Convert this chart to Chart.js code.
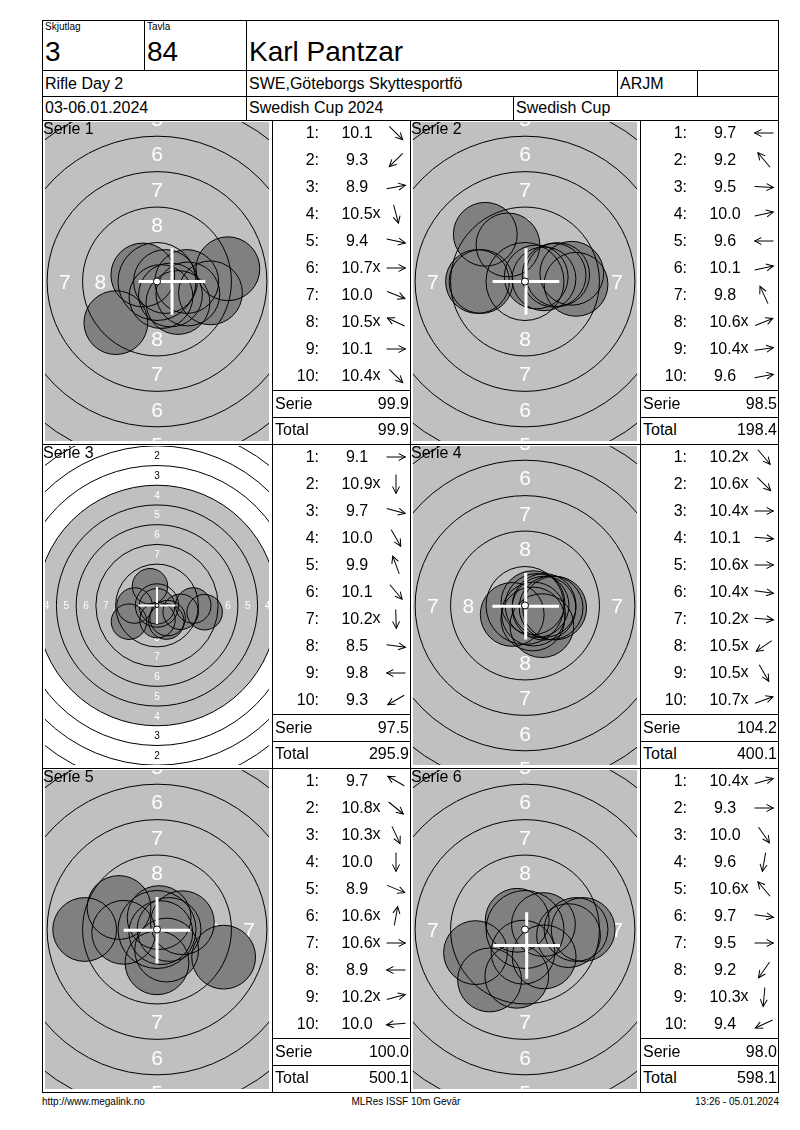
<!DOCTYPE html>
<html>
<head>
<meta charset="utf-8">
<script src="https://cdn.jsdelivr.net/npm/chart.js@4.4.1/dist/chart.umd.min.js"></script>
<style>
  body { margin: 0; background: #fff; font-family: "Liberation Sans", Arial, sans-serif; color: #000; }
  #page { position: relative; width: 800px; height: 1130px; overflow: hidden; }
  .ln { position: absolute; background: #000; }
  .t { position: absolute; white-space: nowrap; line-height: 1; }
  canvas { position: absolute; }
</style>
</head>
<body>
<div id="page"></div>
<script>
// header
const squad = '3';
const lane = '84';
const shooter = 'Karl Pantzar';
const eventName = 'Rifle Day 2';
const club = 'SWE,Göteborgs Skyttesportfö';
const classCode = 'ARJM';
const dates = '03-06.01.2024';
const competition = 'Swedish Cup 2024';
const cupName = 'Swedish Cup';
const footer = ['http://www.megalink.no', 'MLRes ISSF 10m Gevär', '13:26 - 05.01.2024'];

// series
const serieNames = ['Serie 1', 'Serie 2', 'Serie 3', 'Serie 4', 'Serie 5', 'Serie 6'];
const shotScores = [
  [10.1, 9.3, 8.9, 10.5, 9.4, 10.7, 10.0, 10.5, 10.1, 10.4],
  [9.7, 9.2, 9.5, 10.0, 9.6, 10.1, 9.8, 10.6, 10.4, 9.6],
  [9.1, 10.9, 9.7, 10.0, 9.9, 10.1, 10.2, 8.5, 9.8, 9.3],
  [10.2, 10.6, 10.4, 10.1, 10.6, 10.4, 10.2, 10.5, 10.5, 10.7],
  [9.7, 10.8, 10.3, 10.0, 8.9, 10.6, 10.6, 8.9, 10.2, 10.0],
  [10.4, 9.3, 10.0, 9.6, 10.6, 9.7, 9.5, 9.2, 10.3, 9.4]
];
const innerTens = [
  [0, 0, 0, 1, 0, 1, 0, 1, 0, 1],
  [0, 0, 0, 0, 0, 0, 0, 1, 1, 0],
  [0, 1, 0, 0, 0, 0, 1, 0, 0, 0],
  [1, 1, 1, 0, 1, 1, 1, 1, 1, 1],
  [0, 1, 1, 0, 0, 1, 1, 0, 1, 0],
  [1, 0, 0, 0, 1, 0, 0, 0, 1, 0]
];
// shot centres in mm from target centre (x right, y up)
const shotX = [
  [1.48, -2.9, 5.0, 0.28, 3.77, 0.6, 2.18, -1.0, 2.1, 0.95],
  [-3.1, -2.8, 3.6, 2.3, -3.35, 2.05, -1.2, 0.79, 1.34, 3.3],
  [4.6, 0.0, 3.0, 1.18, -0.89, 1.35, 0.06, 6.04, -2.85, -3.55],
  [1.19, 0.6, 1.35, 2.09, 0.85, 1.34, 1.84, -0.9, 0.55, 0.56],
  [-2.68, 0.27, 0.68, 0.0, 4.7, 0.15, 0.85, -5.1, 1.79, -2.35],
  [1.3, 4.1, 1.35, -0.58, -0.55, 3.07, 3.6, -2.5, -0.14, -3.49]
];
const shotY = [
  [-1.48, -2.9, 0.9, -1.06, -0.8, 0.0, -0.88, 0.46, 0.0, -0.95],
  [0.0, 3.33, -0.2, 0.49, 0.0, 0.44, 2.58, 0.32, 0.19, 0.58],
  [0.0, -0.1, -0.8, -2.04, 2.44, -1.6, -1.85, -0.85, 0.0, -2.05],
  [-1.42, -0.6, 0.0, -0.18, 0.0, -0.19, -0.16, -0.63, -0.95, 0.2],
  [1.55, -0.22, -1.45, -2.35, -1.95, 0.84, 0.0, 0.0, 0.48, -0.2],
  [0.35, 0.0, -1.93, -3.3, 0.65, -0.43, 0.0, -3.56, -1.6, -1.63]
];
const crossX = [1.06, 0.07, 0.0, 0.05, 0.0, 0.12];
const crossY = [0.0, 0.0, 0.0, -0.05, -0.05, -1.13];
const serieTotals = [99.9, 98.5, 97.5, 104.2, 100.0, 98.0];
const runningTotals = [99.9, 198.4, 295.9, 400.1, 500.1, 598.1];
// half width of the visible target, mm
const viewHalf = [7.9, 7.9, 14.2, 7.9, 7.9, 7.9];
const ringLabels = [1, 2, 3, 4, 5, 6, 7, 8];

const RING_STEP = 2.5;
const BLACK_R = 15.25;
const PELLET_R = 2.25;
const CROSS_ARM = 2.35;

const page = document.getElementById('page');

function line(x, y, w, h) {
  const d = document.createElement('div');
  d.className = 'ln';
  d.style.cssText = `left:${x}px;top:${y}px;width:${w}px;height:${h}px`;
  page.appendChild(d);
}

function text(str, x, yc, size, align) {
  const d = document.createElement('div');
  d.className = 't';
  d.textContent = str;
  d.style.fontSize = size + 'px';
  d.style.top = (yc - 0.4885 * size) + 'px';
  if (align === 'right') {
    d.style.left = (x - 1000) + 'px'; d.style.width = '1000px'; d.style.textAlign = 'right';
  } else if (align === 'center') {
    d.style.left = (x - 500) + 'px'; d.style.width = '1000px'; d.style.textAlign = 'center';
  } else {
    d.style.left = x + 'px';
  }
  page.appendChild(d);
  return d;
}

// frame
const L = 42, R = 778;
line(L, 20, R - L + 1, 1);
line(L, 20, 1, 1073);
line(R, 20, 1, 1073);
line(L, 70, R - L, 1);
line(L, 96, R - L, 1);
line(L, 120, R - L, 1);
line(144, 20, 1, 50);
line(246, 20, 1, 100);
line(617, 70, 1, 26);
line(697, 70, 1, 26);
line(513, 96, 1, 24);

text('Skjutlag', 45, 27, 10, 'left');
text('Tavla', 147, 27, 10, 'left');
text(squad, 45, 52, 28, 'left');
text(lane, 147, 52, 28, 'left');
text(shooter, 249, 52, 28, 'left');
text(eventName, 45, 84, 16, 'left');
text(club, 249, 84, 16, 'left');
text(classCode, 620, 84, 16, 'left');
text(dates, 45, 108, 16, 'left');
text(competition, 249, 108, 16, 'left');
text(cupName, 516, 108, 16, 'left');

text(footer[0], 42, 1102, 10, 'left');
text(footer[1], 406, 1102, 10, 'center');
text(footer[2], R + 1, 1102, 10, 'right');

const rowTops = [120, 444, 768];
const colTarget = [42, 410];
const colList = [272, 640];
const colRight = [410, R];

rowTops.forEach(t => line(L, t + 324, R - L, 1));
[272, 410, 640].forEach(x => line(x, 120, 1, 972));

function geom(chart) {
  const { x, y } = chart.scales;
  const cx = x.getPixelForValue(0), cy = y.getPixelForValue(0);
  const k = Math.abs(x.getPixelForValue(1) - cx);
  return { x, y, cx, cy, k };
}

const targetPlugin = {
  id: 'issfTarget',
  beforeDatasetsDraw(chart) {
    const { ctx, chartArea: a } = chart;
    const g = geom(chart);
    ctx.save();
    ctx.beginPath();
    ctx.rect(a.left, a.top, a.right - a.left, a.bottom - a.top);
    ctx.clip();
    ctx.fillStyle = '#ffffff';
    ctx.fillRect(a.left, a.top, a.right - a.left, a.bottom - a.top);
    ctx.fillStyle = '#c0c0c0';
    ctx.beginPath();
    ctx.arc(g.cx, g.cy, BLACK_R * g.k, 0, Math.PI * 2);
    ctx.fill();
    const fs = g.k < 10 ? 10 : 21;
    ctx.font = fs + 'px "Liberation Sans", Arial, sans-serif';
    ctx.textAlign = 'center';
    ctx.textBaseline = 'alphabetic';
    ringLabels.forEach(n => {
      const r = (10 - n) * RING_STEP - 1.0;
      ctx.fillStyle = r < BLACK_R ? '#ffffff' : '#000000';
      [[0, -r], [0, r], [-r, 0], [r, 0]].forEach(([dx, dy]) => {
        ctx.fillText(String(n), g.cx + dx * g.k, g.cy + dy * g.k + 0.358 * fs);
      });
    });
    ctx.restore();
  },
  afterDatasetsDraw(chart, args, opts) {
    const { ctx, chartArea: a } = chart;
    const g = geom(chart);
    ctx.save();
    ctx.beginPath();
    ctx.rect(a.left, a.top, a.right - a.left, a.bottom - a.top);
    ctx.clip();
    ctx.strokeStyle = '#000';
    ctx.lineWidth = 1;
    for (let n = 1; n <= 9; n++) {
      ctx.beginPath();
      ctx.arc(g.cx, g.cy, (0.25 + (10 - n) * RING_STEP) * g.k, 0, Math.PI * 2);
      ctx.stroke();
    }
    // mean point cross
    const mx = g.x.getPixelForValue(opts.cross[0]);
    const my = g.y.getPixelForValue(opts.cross[1]);
    const arm = CROSS_ARM * g.k;
    ctx.strokeStyle = '#ffffff';
    ctx.lineWidth = g.k < 10 ? 2 : 3;
    ctx.beginPath();
    ctx.moveTo(mx - arm, my); ctx.lineTo(mx + arm, my);
    ctx.moveTo(mx, my - arm); ctx.lineTo(mx, my + arm);
    ctx.stroke();
    // ten dot
    ctx.fillStyle = '#ffffff';
    ctx.strokeStyle = '#000';
    ctx.lineWidth = 1;
    ctx.beginPath();
    ctx.arc(g.cx, g.cy, Math.max(2, 0.25 * g.k), 0, Math.PI * 2);
    ctx.fill();
    ctx.stroke();
    ctx.restore();
  }
};

function pelletPx(c) {
  const s = c.chart.scales.x;
  return Math.abs(s.getPixelForValue(PELLET_R) - s.getPixelForValue(0));
}

function arrowSvg(deg, cx, cy) {
  return `<svg width="26" height="26" viewBox="-13 -13 26 26" style="position:absolute;left:${cx - 13}px;top:${cy - 13}px">` +
    `<g transform="rotate(${-deg})" stroke="#000" stroke-width="1" fill="none">` +
    `<line x1="-9.5" y1="0" x2="9.5" y2="0"/><polyline points="2.5,-3.5 9.5,0 2.5,3.5"/></g></svg>`;
}

serieNames.forEach((name, i) => {
  const row = Math.floor(i / 2), col = i % 2;
  const top = rowTops[row];
  const tx = colTarget[col];

  const cv = document.createElement('canvas');
  cv.width = 230; cv.height = 324;
  cv.style.left = tx + 'px';
  cv.style.top = top + 'px';
  page.appendChild(cv);

  const half = viewHalf[i];
  const halfY = half * 319 / 224;
  const pts = shotX[i].map((x, k) => ({ x: x, y: shotY[i][k] }));

  new Chart(cv, {
    type: 'scatter',
    data: {
      datasets: [
        { data: pts, backgroundColor: '#808080', borderWidth: 0, pointRadius: pelletPx, order: 2 },
        { data: pts, backgroundColor: 'rgba(0,0,0,0)', borderColor: '#000', borderWidth: 1, pointRadius: pelletPx, order: 1 }
      ]
    },
    options: {
      responsive: false,
      animation: false,
      devicePixelRatio: 1,
      events: [],
      layout: { padding: { left: 3, right: 3, top: 2, bottom: 3 } },
      scales: {
        x: { type: 'linear', min: -half, max: half, display: false },
        y: { type: 'linear', min: -halfY, max: halfY, display: false }
      },
      plugins: {
        legend: { display: false },
        tooltip: { enabled: false },
        issfTarget: { cross: [crossX[i], crossY[i]] }
      }
    },
    plugins: [targetPlugin]
  });

  text(name, tx + 1, top + 9, 16, 'left');

  // shot list
  const lx = colList[col], rx = colRight[col];
  shotScores[i].forEach((s, k) => {
    const yc = top + 13 + 27 * k;
    text((k + 1) + ':', lx + 47, yc, 16, 'right');
    const d = text('', lx + 85, yc, 16, 'center');
    const sp = document.createElement('span');
    sp.style.position = 'relative';
    sp.textContent = s.toFixed(1);
    if (innerTens[i][k]) {
      const xs = document.createElement('span');
      xs.textContent = 'x';
      xs.style.cssText = 'position:absolute;left:100%;top:0';
      sp.appendChild(xs);
    }
    d.appendChild(sp);
    const deg = Math.atan2(shotY[i][k], shotX[i][k]) * 180 / Math.PI;
    page.insertAdjacentHTML('beforeend', arrowSvg(deg, lx + 124, yc));
  });
  line(lx, top + 270, rx - lx, 1);
  line(lx, top + 297, rx - lx, 1);
  text('Serie', lx + 3, top + 284, 16, 'left');
  text(serieTotals[i].toFixed(1), rx - 1, top + 284, 16, 'right');
  text('Total', lx + 3, top + 310, 16, 'left');
  text(runningTotals[i].toFixed(1), rx - 1, top + 310, 16, 'right');
});
</script>
</body>
</html>
